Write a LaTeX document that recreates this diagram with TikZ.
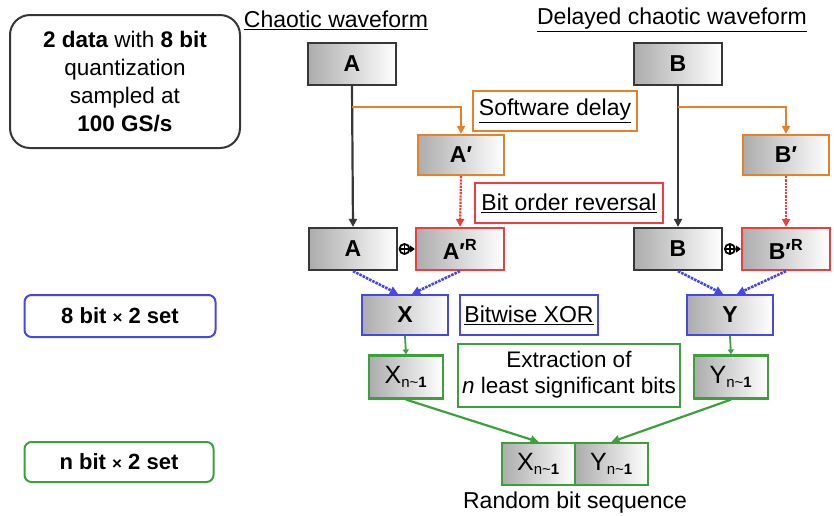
\documentclass[tikz,border=0pt]{standalone}
\usepackage{fontspec}
\setmainfont{Liberation Sans}
\usetikzlibrary{arrows.meta,positioning,calc}

\definecolor{dlyorange}{RGB}{232,128,40}
\definecolor{revred}{RGB}{240,60,60}
\definecolor{xorblue}{RGB}{70,70,235}
\definecolor{lsbgreen}{RGB}{60,160,60}
\definecolor{boxline}{RGB}{55,55,55}

\newcommand{\lsb}{\textsubscript{\fontsize{15}{15}\selectfont n\textasciitilde\textbf{1}}}

\tikzset{
	wave/.style={draw=boxline, line width=2.2pt, left color=gray!65, right color=white,
		minimum width=88pt, minimum height=42pt, inner sep=0pt,
		font=\fontsize{23}{23}\selectfont\bfseries},
	tag/.style={draw, line width=2pt, fill=white, inner sep=0pt,
		font=\fontsize{23}{23}\selectfont},
	note/.style={draw, line width=2pt, rounded corners=7pt, inner sep=0pt,
		font=\fontsize{22}{22}\selectfont\bfseries},
	tip/.style={-{Triangle[length=8pt,width=8pt]}},
	catsym/.style={circle, draw, fill=white, line width=1.8pt, minimum size=10pt, inner sep=0pt,
		path picture={\draw[line width=1.5pt] (path picture bounding box.north) -- (path picture bounding box.south)
			(path picture bounding box.west) -- (path picture bounding box.east);}},
}

\begin{document}
\begin{tikzpicture}[x=1pt, y=-1pt]
	\useasboundingbox (0,0) rectangle (834,515);

	% titles and notes on the left
	\node[font=\fontsize{23}{23}\selectfont] (tA) at (336,20) {\underline{Chaotic waveform}};
	\node[font=\fontsize{23}{23}\selectfont] (tB) at (672,20) {\underline{Delayed chaotic waveform}};
	\node[draw=boxline, line width=2pt, rounded corners=20pt, minimum width=230pt, minimum height=133pt,
		align=center, font=\fontsize{22.5}{28}\selectfont] (info) at (125,81.5)
		{\textbf{2 data} with \textbf{8 bit}\\quantization\\sampled at\\\textbf{100 GS/s}};
	\node[note, draw=xorblue, minimum width=191pt, minimum height=42pt] (set8) at (120,316)
		{8 bit {\fontsize{17}{17}\selectfont ×} 2 set};
	\node[note, draw=lsbgreen, minimum width=189pt, minimum height=40pt] (setn) at (119,462)
		{n bit {\fontsize{17}{17}\selectfont ×} 2 set};

	% waveform boxes
	\node[wave] (A1) at (352,64) {A};
	\node[wave] (B1) at (678,64) {B};
	\node[wave, draw=dlyorange, minimum width=86pt, minimum height=40pt] (Ap) at (461,155) {A\char"2032};
	\node[wave, draw=dlyorange, minimum width=86pt, minimum height=40pt] (Bp) at (786,155) {B\char"2032};
	\node[wave] (A2) at (353,249) {A};
	\node[wave, draw=revred] (ApR) at (460,249) {A\char"2032\textsuperscript{R}};
	\node[wave] (B2) at (678,249) {B};
	\node[wave, draw=revred] (BpR) at (786,249) {B\char"2032\textsuperscript{R}};
	\node[wave, draw=xorblue, minimum width=86pt, minimum height=40pt] (X) at (405,315) {X};
	\node[wave, draw=xorblue, minimum width=86pt, minimum height=40pt] (Y) at (730,315) {Y};
	\node[wave, draw=lsbgreen, minimum width=74pt, minimum height=43pt,
		font=\fontsize{25}{25}\selectfont] (Xn) at (406,377) {X\lsb};
	\node[wave, draw=lsbgreen, minimum width=74pt, minimum height=43pt,
		font=\fontsize{25}{25}\selectfont] (Yn) at (731,377) {Y\lsb};
	\node[wave, draw=lsbgreen, minimum width=73pt, minimum height=42pt,
		font=\fontsize{25}{25}\selectfont] (RX) at (538.5,464) {X\lsb};
	\node[wave, draw=lsbgreen, minimum width=73pt, minimum height=42pt,
		font=\fontsize{25}{25}\selectfont] (RY) at (611.5,464) {Y\lsb};
	\node[font=\fontsize{23}{23}\selectfont] (rbs) at (575,503) {Random bit sequence};

	% operation labels
	\node[tag, draw=dlyorange, minimum width=164pt, minimum height=40pt] (sd) at (555,111) {\underline{Software delay}};
	\node[tag, draw=revred, minimum width=188pt, minimum height=40pt] (bor) at (569,203) {\underline{Bit order reversal}};
	\node[tag, draw=xorblue, minimum width=138pt, minimum height=40pt] (bx) at (529,315) {\underline{Bitwise XOR}};
	\node[tag, draw=lsbgreen, minimum width=222pt, minimum height=63pt, align=center,
		font=\fontsize{22.5}{26}\selectfont] (ex) at (569,375) {Extraction of\\\textit{n} least significant bits};

	% concatenation marks
	\node[catsym] (cA) at ($(A2.east)!0.38!(ApR.west)$) {};
	\node[catsym] (cB) at ($(B2.east)!0.38!(BpR.west)$) {};
	\draw[-{Triangle[length=5pt,width=7pt]}, line width=1.5pt] (cA) -- (ApR.west);
	\draw[-{Triangle[length=5pt,width=7pt]}, line width=1.5pt] (cB) -- (BpR.west);

	% connectors
	\draw[tip, boxline, line width=2.2pt] (A1.south) -- (A2.north);
	\draw[tip, boxline, line width=2.2pt] (B1.south) -- (B2.north);
	\draw[tip, dlyorange, line width=2pt] (A1.south) ++(0,21) -| (Ap.north);
	\draw[tip, dlyorange, line width=2pt] (B1.south) ++(0,21) -| (Bp.north);
	\draw[tip, revred, line width=2.2pt, densely dotted] (Ap.south) -- (ApR.north);
	\draw[tip, revred, line width=2.2pt, densely dotted] (Bp.south) -- (BpR.north);
	\draw[tip, xorblue, line width=2.6pt, densely dotted] (A2.south) -- ($(X.north)+(-7,0)$);
	\draw[tip, xorblue, line width=2.6pt, densely dotted] (ApR.south) -- ($(X.north)+(7,0)$);
	\draw[tip, xorblue, line width=2.6pt, densely dotted] (B2.south) -- ($(Y.north)+(-7,0)$);
	\draw[tip, xorblue, line width=2.6pt, densely dotted] (BpR.south) -- ($(Y.north)+(7,0)$);
	\draw[-{Triangle[length=5pt,width=6pt]}, lsbgreen, line width=1.8pt] (X.south) -- (Xn.north);
	\draw[-{Triangle[length=5pt,width=6pt]}, lsbgreen, line width=1.8pt] (Y.south) -- (Yn.north);
	\draw[tip, lsbgreen, line width=2.2pt] (Xn.south) -- (RX.north);
	\draw[tip, lsbgreen, line width=2.2pt] (Yn.south) -- (RY.north);
\end{tikzpicture}
\end{document}
